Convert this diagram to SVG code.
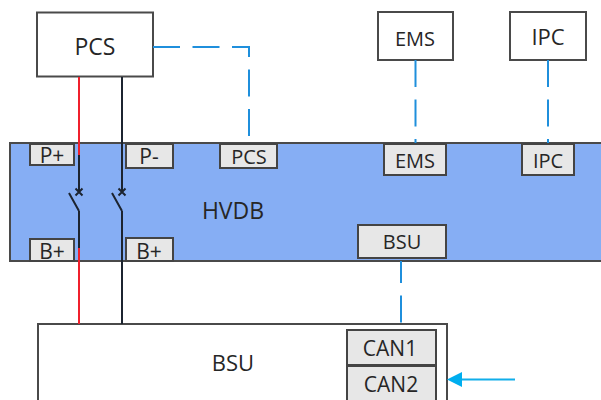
<svg xmlns="http://www.w3.org/2000/svg" width="601" height="400" viewBox="0 0 601 400">
<style>
text{font-family:"Open Sans","Noto Sans",sans-serif;fill:#262626;text-anchor:middle}
.box{fill:#fff;stroke:#4a4a4a;stroke-width:2}
.tag{fill:#e7e7e7;stroke:#444;stroke-width:2}
.t20{font-size:20px}.t21{font-size:21px}.t22{font-size:22px}.t23{font-size:23px}
.dash{fill:none;stroke:#1f8fdc;stroke-width:2;stroke-dasharray:27 12.500}
.red{fill:none;stroke:#f0202c;stroke-width:2}
.blk{fill:none;stroke:#1c2430;stroke-width:2}
</style>
<g id="HVDB"><rect x="10" y="143" width="600" height="118" fill="#86aef4" stroke="#4a4a4a" stroke-width="2"/><text class="t23" x="233" y="219">HVDB</text></g>
<g id="PCS"><rect class="box" x="37" y="12.500" width="116" height="64"/><text class="t23" x="95" y="55">PCS</text></g>
<g id="EMS"><rect class="box" x="378" y="12" width="75" height="48"/><text class="t20" x="415" y="46">EMS</text></g>
<g id="IPC"><rect class="box" x="510" y="12" width="76" height="48"/><text class="t22" x="548" y="45">IPC</text></g>
<g id="BSU"><rect class="box" x="38" y="324" width="409" height="90"/><text class="t22" x="233" y="371">BSU</text></g>
<g id="connectors">
<path class="red" d="M79 77V155M79 248V324"/>
<path class="blk" d="M79 155V192M79 211V248M122 77V192M122 211V324M69 193L79 211M112 193L122 211"/>
<path class="blk" d="M75.500 188.500L82.500 195.500M82.500 188.500L75.500 195.500M118.500 188.500L125.500 195.500M125.500 188.500L118.500 195.500"/>
<path class="dash" d="M153 47H249V143"/>
<path class="dash" d="M415.500 60V143"/>
<path class="dash" d="M548 60V143"/>
<path class="dash" stroke-dashoffset="5" d="M401 261V324"/>
<path d="M515 379.500H460" fill="none" stroke="#11aeea" stroke-width="2"/>
<path d="M447 379.500L462 372V387Z" fill="#00aeef"/>
</g>
<g id="tag-P-plus"><rect class="tag" x="30" y="144" width="44" height="21"/><text class="t21" x="52" y="163">P+</text></g>
<g id="tag-P-minus"><rect class="tag" x="126" y="144" width="47" height="24"/><text class="t21" x="149" y="164">P-</text></g>
<g id="tag-PCS"><rect class="tag" x="220" y="144" width="57" height="24"/><text class="t20" x="249" y="164">PCS</text></g>
<g id="tag-EMS"><rect class="tag" x="384" y="144" width="62" height="31"/><text class="t20" x="415" y="168">EMS</text></g>
<g id="tag-IPC"><rect class="tag" x="522" y="144" width="52" height="31"/><text class="t20" x="548" y="168">IPC</text></g>
<g id="tag-B-plus-1"><rect class="tag" x="30" y="239" width="44" height="22"/><text class="t21" x="52" y="259">B+</text></g>
<g id="tag-B-plus-2"><rect class="tag" x="126" y="238" width="47" height="23"/><text class="t21" x="149" y="259">B+</text></g>
<g id="tag-BSU"><rect class="tag" x="358" y="225" width="88" height="33"/><text class="t20" x="402" y="249">BSU</text></g>
<g id="tag-CAN1"><rect class="tag" x="347" y="330" width="89" height="35"/><text class="t21" x="390" y="356">CAN1</text></g>
<g id="tag-CAN2"><rect class="tag" x="347" y="366" width="89" height="44"/><text class="t21" x="391" y="392">CAN2</text></g>
</svg>
